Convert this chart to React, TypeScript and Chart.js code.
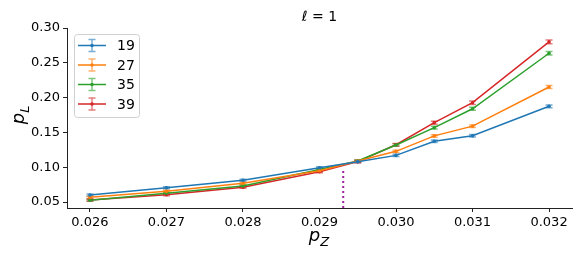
import React, { useEffect, useRef } from "react";
import { Chart, registerables } from "chart.js";

Chart.register(...registerables);

const pZ = [0.026, 0.027, 0.028, 0.029, 0.0295, 0.030, 0.0305, 0.031, 0.032];
const seriesLabels = ["19", "27", "35", "39"];
const s19 = [0.060, 0.0706, 0.0812, 0.0993, 0.1080, 0.1170, 0.1372, 0.1453, 0.1875];
const s27 = [0.0567, 0.0653, 0.0768, 0.0950, 0.1090, 0.1228, 0.1450, 0.1590, 0.2152];
const s35 = [0.0525, 0.0625, 0.0730, 0.0967, 0.1090, 0.1320, 0.1568, 0.1840, 0.2637];
const s39 = [0.0530, 0.0605, 0.0711, 0.0936, 0.1080, 0.1323, 0.1640, 0.1927, 0.2800];
const e19 = [0.0015, 0.0015, 0.0015, 0.0015, 0.0015, 0.0015, 0.0018, 0.0018, 0.0020];
const e27 = [0.0015, 0.0015, 0.0015, 0.0015, 0.0015, 0.0015, 0.0018, 0.0018, 0.0022];
const e35 = [0.0015, 0.0015, 0.0015, 0.0015, 0.0015, 0.0018, 0.0020, 0.0022, 0.0025];
const e39 = [0.0015, 0.0015, 0.0015, 0.0015, 0.0015, 0.0018, 0.0022, 0.0025, 0.0028];
const xTicks = [0.026, 0.027, 0.028, 0.029, 0.030, 0.031, 0.032];
const yTicks = [0.05, 0.10, 0.15, 0.20, 0.25, 0.30];
const crossingX = 0.02931;
const crossingY = 0.099;
const titleText = "ℓ";
const titleRest = " = 1";

const colors = ["#1f77b4", "#ff7f0e", "#2ca02c", "#d62728"];
const capColors = ["rgba(31,119,180,0.6)", "rgba(255,127,14,0.6)", "rgba(44,160,44,0.6)", "rgba(214,39,40,0.6)"];
const values = [s19, s27, s35, s39];
const errors = [e19, e27, e35, e39];
const FONT = "DejaVu Sans";

const decorPlugin = {
  id: "decor",
  beforeDatasetsDraw(chart: any) {
    const ctx = chart.ctx;
    const xs = chart.scales.x;
    const ys = chart.scales.y;
    // dotted vertical line
    ctx.save();
    ctx.strokeStyle = "#a0209f";
    ctx.lineWidth = 2;
    ctx.setLineDash([2, 3]);
    const px = xs.getPixelForValue(crossingX);
    ctx.beginPath();
    ctx.moveTo(px, chart.chartArea.bottom);
    ctx.lineTo(px, ys.getPixelForValue(crossingY));
    ctx.stroke();
    ctx.restore();
    // error bars
    ctx.save();
    values.forEach((vals, si) => {
      ctx.strokeStyle = capColors[si];
      ctx.lineWidth = 1.5;
      vals.forEach((v, i) => {
        const x = xs.getPixelForValue(pZ[i]);
        const y1 = ys.getPixelForValue(v - errors[si][i]);
        const y2 = ys.getPixelForValue(v + errors[si][i]);
        ctx.beginPath();
        ctx.moveTo(x, y1);
        ctx.lineTo(x, y2);
        ctx.moveTo(x - 3.5, y1);
        ctx.lineTo(x + 3.5, y1);
        ctx.moveTo(x - 3.5, y2);
        ctx.lineTo(x + 3.5, y2);
        ctx.stroke();
      });
    });
    ctx.restore();
  },
  afterDraw(chart: any) {
    const ctx = chart.ctx;
    const ca = chart.chartArea;
    ctx.save();
    // title
    ctx.fillStyle = "#000";
    ctx.textBaseline = "alphabetic";
    ctx.font = `italic 14px ${FONT}`;
    const w1 = ctx.measureText(titleText).width;
    ctx.font = `14px ${FONT}`;
    const w2 = ctx.measureText(titleRest).width;
    const tx = (ca.left + ca.right) / 2 - (w1 + w2) / 2;
    ctx.font = `italic 14px ${FONT}`;
    ctx.fillText(titleText, tx, 21);
    ctx.font = `14px ${FONT}`;
    ctx.fillText(titleRest, tx + w1, 21);
    // x label p_Z
    ctx.font = `italic 18px ${FONT}`;
    const pw = ctx.measureText("p").width;
    ctx.font = `italic 13px ${FONT}`;
    const zw = ctx.measureText("Z").width;
    const lx = 319 - (pw + zw) / 2;
    ctx.font = `italic 18px ${FONT}`;
    ctx.fillText("p", lx, 241);
    ctx.font = `italic 13px ${FONT}`;
    ctx.fillText("Z", lx + pw, 246);
    // y label p_L
    ctx.translate(24, 114);
    ctx.rotate(-Math.PI / 2);
    ctx.font = `italic 18px ${FONT}`;
    const lw = ctx.measureText("L").width;
    const ly = -(pw + 9) / 2;
    ctx.fillText("p", ly, 0);
    ctx.font = `italic 13px ${FONT}`;
    ctx.fillText("L", ly + pw, 5);
    ctx.restore();

    // legend
    ctx.save();
    const bx = 74, by = 34, bw = 65, bh = 83;
    ctx.fillStyle = "rgba(255,255,255,0.85)";
    ctx.strokeStyle = "#d0d0d0";
    ctx.lineWidth = 1;
    ctx.beginPath();
    ctx.roundRect(bx + 0.5, by + 0.5, bw, bh, 3);
    ctx.fill();
    ctx.stroke();
    seriesLabels.forEach((lab, i) => {
      const cy = 45.5 + i * 19.5;
      ctx.strokeStyle = colors[i];
      ctx.lineWidth = 1.5;
      ctx.beginPath();
      ctx.moveTo(78, cy);
      ctx.lineTo(106, cy);
      ctx.stroke();
      ctx.strokeStyle = capColors[i];
      ctx.beginPath();
      ctx.moveTo(92, cy - 6);
      ctx.lineTo(92, cy + 6);
      ctx.moveTo(88.5, cy - 6);
      ctx.lineTo(95.5, cy - 6);
      ctx.moveTo(88.5, cy + 6);
      ctx.lineTo(95.5, cy + 6);
      ctx.stroke();
      ctx.fillStyle = colors[i];
      ctx.beginPath();
      ctx.arc(92, cy, 1.8, 0, Math.PI * 2);
      ctx.fill();
      ctx.fillStyle = "#000";
      ctx.font = `14px ${FONT}`;
      ctx.textBaseline = "middle";
      ctx.fillText(lab, 117, cy + 1);
    });
    ctx.restore();
  },
};

export default function App() {
  const ref = useRef<HTMLCanvasElement>(null);
  useEffect(() => {
    document.body.style.margin = "0";
    const chart = new Chart(ref.current!, {
      type: "line",
      data: {
        datasets: values.map((vals, si) => ({
          label: seriesLabels[si],
          data: vals.map((v, i) => ({ x: pZ[i], y: v })),
          borderColor: colors[si],
          backgroundColor: colors[si],
          borderWidth: 1.5,
          pointRadius: 1.8,
          pointBorderWidth: 0,
          tension: 0,
        })),
      },
      options: {
        animation: false,
        responsive: false,
        layout: { padding: { top: 28, right: 9, left: 0, bottom: 0 } },
        plugins: { legend: { display: false }, tooltip: { enabled: false }, title: { display: false } },
        scales: {
          x: {
            type: "linear",
            min: 0.0257,
            max: 0.0323,
            afterBuildTicks: (s: any) => { s.ticks = xTicks.map((v) => ({ value: v })); },
            afterFit: (s: any) => { s.height = 51; },
            ticks: {
              callback: (v: any) => Number(v).toFixed(3),
              color: "#000",
              font: { family: FONT, size: 13 },
              padding: 3,
              maxRotation: 0,
              autoSkip: false,
            },
            grid: { drawOnChartArea: false, drawTicks: true, tickLength: 4, color: "#222", tickWidth: 1 },
            border: { display: true, color: "#222", width: 1 },
          },
          y: {
            type: "linear",
            min: 0.0414,
            max: 0.30,
            afterBuildTicks: (s: any) => { s.ticks = yTicks.map((v) => ({ value: v })); },
            afterFit: (s: any) => { s.width = 67; },
            ticks: {
              callback: (v: any) => Number(v).toFixed(2),
              color: "#000",
              font: { family: FONT, size: 13 },
              padding: 3,
              autoSkip: false,
            },
            grid: { drawOnChartArea: false, drawTicks: true, tickLength: 4, color: "#222", tickWidth: 1 },
            border: { display: true, color: "#222", width: 1 },
          },
        },
      },
      plugins: [decorPlugin],
    });
    return () => chart.destroy();
  }, []);
  return (
    <div style={{ width: 581, height: 259, background: "#fff" }}>
      <canvas ref={ref} width={581} height={259} style={{ width: 581, height: 259, display: "block" }} />
    </div>
  );
}
